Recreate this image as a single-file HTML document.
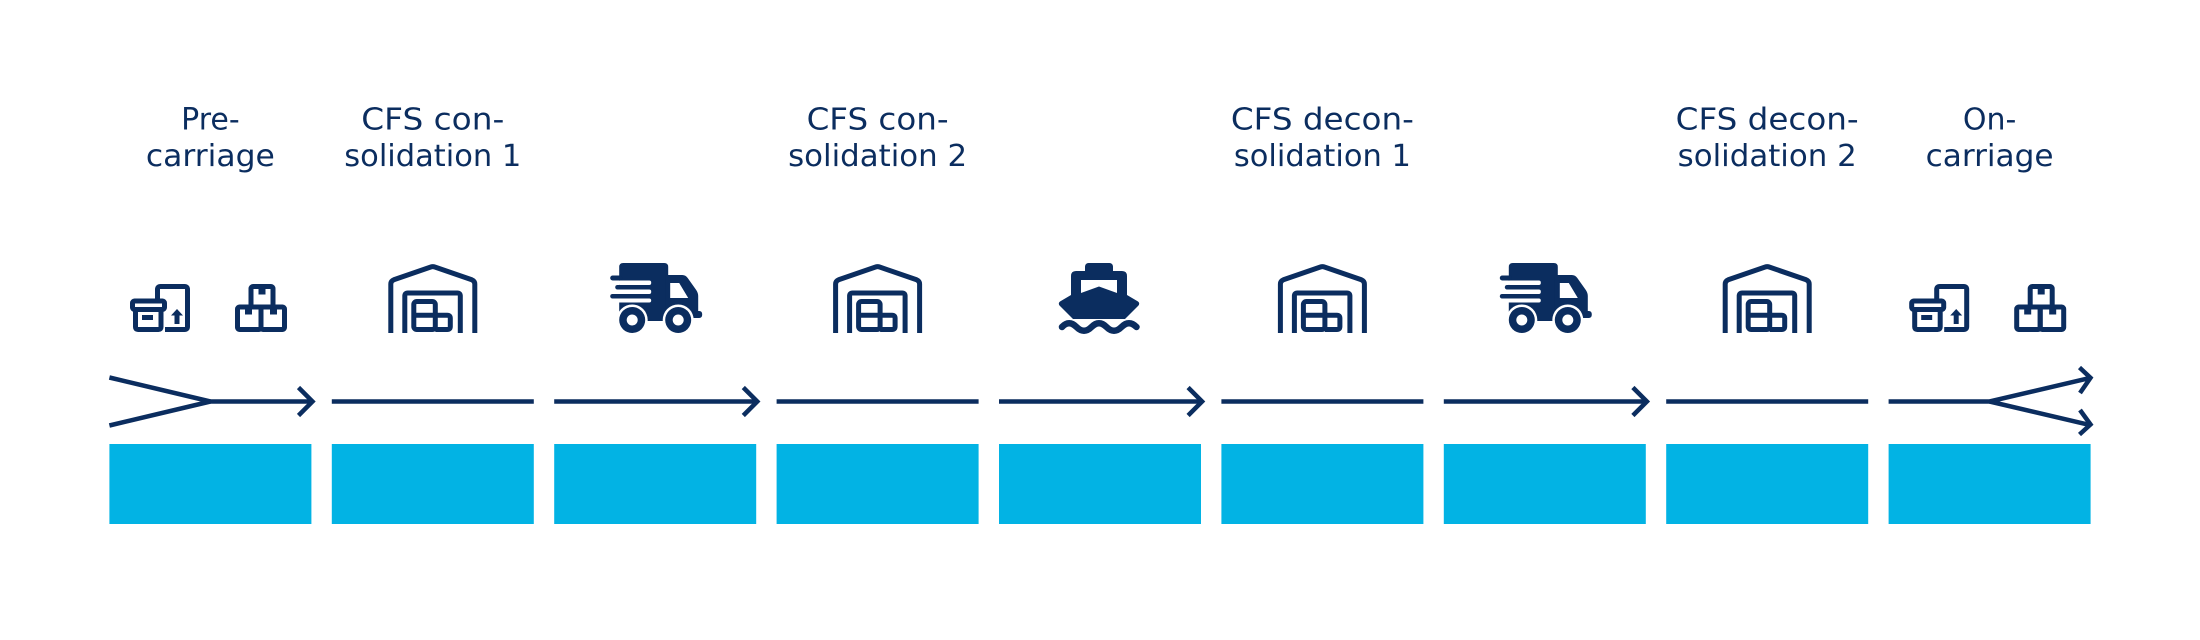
<!DOCTYPE html>
<html>
<head>
<meta charset="utf-8">
<style>
  html, body { margin: 0; padding: 0; background: #ffffff; }
  body { width: 2200px; height: 640px; overflow: hidden; }
  svg { display: block; }
  .lbl { font-family: "DejaVu Sans", "Liberation Sans", sans-serif; font-size: 30px; fill: #0b2d5f; }
</style>
</head>
<body>
<svg width="2200" height="640" viewBox="0 0 2200 640" xmlns="http://www.w3.org/2000/svg">
  <defs>
    <!-- Warehouse icon: 89 x 69 -->
    <g id="wh" fill="none" stroke="#0b2d5f" stroke-width="5" stroke-linejoin="round">
      <path d="M2.5,69 V20 Q2.5,17 5.5,15.8 L42.5,3 Q44.5,2.2 46.5,3 L83.5,15.8 Q86.5,17 86.5,20 V69"/>
      <path d="M16.5,69 V32 Q16.5,29 19.5,29 H69 Q72,29 72,32 V69"/>
      <rect x="25.5" y="37.5" width="21.5" height="28" rx="3"/>
      <path d="M25.5,51.3 H59 Q62,51.3 62,54.3 V62.5 Q62,65.5 59,65.5 H47"/>
    </g>
    <!-- Truck icon: 91 x 70 -->
    <g id="truck">
      <g fill="#0b2d5f">
        <path d="M9,4 Q9,0 13,0 H54 Q58,0 58,4 V58 H9 Z"/>
        <path d="M55,12 H72 Q75.5,12 77.5,15 L86,27 Q88,30 88,33 V48 H89 Q92,48 92,51.5 Q92,55 89,55 H55 Z"/>
      </g>
      <path d="M60,20 H69 L78,35 H60 Z" fill="#ffffff"/>
      <rect x="8" y="17.5" width="33" height="4.5" rx="2" fill="#ffffff"/>
      <rect x="-1" y="26.5" width="42" height="4.5" rx="2" fill="#ffffff"/>
      <rect x="-1" y="35.5" width="42" height="4" rx="2" fill="#ffffff"/>
      <g fill="#0b2d5f">
        <rect x="0" y="12.5" width="12" height="5" rx="2.5"/>
        <rect x="5" y="22" width="31" height="4.5" rx="2.25"/>
        <rect x="0" y="31" width="31" height="4.5" rx="2.25"/>
      </g>
      <circle cx="22" cy="57" r="15.5" fill="#ffffff"/>
      <circle cx="68" cy="57" r="15.5" fill="#ffffff"/>
      <circle cx="22" cy="57" r="13" fill="#0b2d5f"/>
      <circle cx="68" cy="57" r="13" fill="#0b2d5f"/>
      <circle cx="22" cy="57" r="5.5" fill="#ffffff"/>
      <circle cx="68" cy="57" r="5.5" fill="#ffffff"/>
    </g>
    <!-- Ship icon: 82 x 70 -->
    <g id="ship">
      <g fill="#0b2d5f">
        <rect x="26" y="0" width="28" height="14" rx="3.5"/>
        <path d="M17,8 H63 Q68,8 68,13 V32 L79,38.5 Q81.5,40.5 79,43 L66,56 H14 L1,43 Q-1.5,40.5 1,38.5 L12,32 V13 Q12,8 17,8 Z"/>
      </g>
      <path d="M22,17 H58 V30 L40,23.5 L22,30 Z" fill="#ffffff"/>
      <path d="M3,64 Q10,56.5 17.5,64 T32.5,64 T47.5,64 T62.5,64 T77.5,64" fill="none" stroke="#0b2d5f" stroke-width="6.5" stroke-linecap="round"/>
    </g>
    <!-- Box with upload icon: 60 x 48 -->
    <g id="boxA">
      <g fill="none" stroke="#0b2d5f" stroke-width="5" stroke-linejoin="round">
        <path d="M27.5,15 V5.5 Q27.5,2.5 30.5,2.5 H54.5 Q57.5,2.5 57.5,5.5 V42.5 Q57.5,45.5 54.5,45.5 H35"/>
        <rect x="2.5" y="17" width="32" height="8.5" rx="2"/>
        <path d="M5.5,25 V43 Q5.5,45.5 8,45.5 H28.5 Q31,45.5 31,43 V25"/>
        <line x1="12" y1="33.5" x2="23" y2="33.5"/>
        <line x1="47" y1="40" x2="47" y2="29"/>
      </g>
      <path d="M41,31.5 L47,25 L53,31.5 Z" fill="#0b2d5f"/>
    </g>
    <!-- Stacked boxes icon: 52 x 48 -->
    <g id="boxB">
      <g fill="none" stroke="#0b2d5f" stroke-width="5" stroke-linejoin="round">
        <rect x="16" y="2.5" width="22" height="20.5" rx="2"/>
        <rect x="2.5" y="23" width="23.5" height="22.5" rx="2"/>
        <rect x="26" y="23" width="23.5" height="22.5" rx="2"/>
      </g>
      <g fill="#0b2d5f">
        <rect x="23.5" y="2" width="7" height="8.5"/>
        <rect x="10" y="22.5" width="7" height="8"/>
        <rect x="35" y="22.5" width="7" height="8"/>
      </g>
    </g>
  </defs>

  <!-- Labels -->
  <g class="lbl" text-anchor="middle">
    <text x="210.4" y="129.5">Pre-</text>
    <text x="210.4" y="166" textLength="129" lengthAdjust="spacingAndGlyphs">carriage</text>

    <text x="432.8" y="129.5" textLength="143" lengthAdjust="spacingAndGlyphs">CFS con-</text>
    <text x="432.8" y="166" textLength="177" lengthAdjust="spacingAndGlyphs">solidation 1</text>

    <text x="877.6" y="129.5" textLength="142" lengthAdjust="spacingAndGlyphs">CFS con-</text>
    <text x="877.6" y="166" textLength="179" lengthAdjust="spacingAndGlyphs">solidation 2</text>

    <text x="1322.4" y="129.5" textLength="183" lengthAdjust="spacingAndGlyphs">CFS decon-</text>
    <text x="1322.4" y="166" textLength="177" lengthAdjust="spacingAndGlyphs">solidation 1</text>

    <text x="1767.2" y="129.5" textLength="183" lengthAdjust="spacingAndGlyphs">CFS decon-</text>
    <text x="1767.2" y="166" textLength="179" lengthAdjust="spacingAndGlyphs">solidation 2</text>

    <text x="1989.6" y="129.5">On-</text>
    <text x="1989.6" y="166" textLength="128" lengthAdjust="spacingAndGlyphs">carriage</text>
  </g>

  <!-- Icons -->
  <use href="#boxA" x="130" y="284"/>
  <use href="#boxB" x="235" y="284"/>
  <use href="#wh" x="388.3" y="264"/>
  <use href="#truck" x="610.2" y="263"/>
  <use href="#wh" x="833.1" y="264"/>
  <use href="#ship" x="1059" y="263"/>
  <use href="#wh" x="1277.9" y="264"/>
  <use href="#truck" x="1499.8" y="263"/>
  <use href="#wh" x="1722.7" y="264"/>
  <use href="#boxA" x="1909.2" y="284"/>
  <use href="#boxB" x="2014.2" y="284"/>

  <!-- Flow lines -->
  <g fill="none" stroke="#0b2d5f" stroke-width="4.5" stroke-linejoin="miter" stroke-linecap="butt">
    <!-- segment 1: fan-in + arrow -->
    <path d="M109.4,377.5 L210.4,401.5 L109.4,425.5"/>
    <path d="M210.4,401.5 H311.5"/>
    <path d="M298.5,387.5 L312.5,401.5 L298.5,415.5"/>
    <!-- segment 2 -->
    <path d="M331.8,401.5 H533.8"/>
    <!-- segment 3 -->
    <path d="M554.2,401.5 H756"/>
    <path d="M743.3,387.5 L757.3,401.5 L743.3,415.5"/>
    <!-- segment 4 -->
    <path d="M776.6,401.5 H978.6"/>
    <!-- segment 5 -->
    <path d="M999,401.5 H1200.8"/>
    <path d="M1188.1,387.5 L1202.1,401.5 L1188.1,415.5"/>
    <!-- segment 6 -->
    <path d="M1221.4,401.5 H1423.4"/>
    <!-- segment 7 -->
    <path d="M1443.8,401.5 H1645.6"/>
    <path d="M1632.9,387.5 L1646.9,401.5 L1632.9,415.5"/>
    <!-- segment 8 -->
    <path d="M1666.2,401.5 H1868.2"/>
    <!-- segment 9: fan-out with two arrows -->
    <path d="M1888.6,401.5 H1989.6 L2089,378.2"/>
    <path d="M1989.6,401.5 L2089,424.8"/>
    <path d="M2079.5,367.5 L2090.5,377.8 L2080,393"/>
    <path d="M2080,410 L2090.5,424.5 L2079.5,434.5"/>
  </g>

  <!-- Cyan blocks -->
  <g fill="#02b3e4">
    <rect x="109.4" y="444" width="202" height="80"/>
    <rect x="331.8" y="444" width="202" height="80"/>
    <rect x="554.2" y="444" width="202" height="80"/>
    <rect x="776.6" y="444" width="202" height="80"/>
    <rect x="999" y="444" width="202" height="80"/>
    <rect x="1221.4" y="444" width="202" height="80"/>
    <rect x="1443.8" y="444" width="202" height="80"/>
    <rect x="1666.2" y="444" width="202" height="80"/>
    <rect x="1888.6" y="444" width="202" height="80"/>
  </g>
</svg>
</body>
</html>
